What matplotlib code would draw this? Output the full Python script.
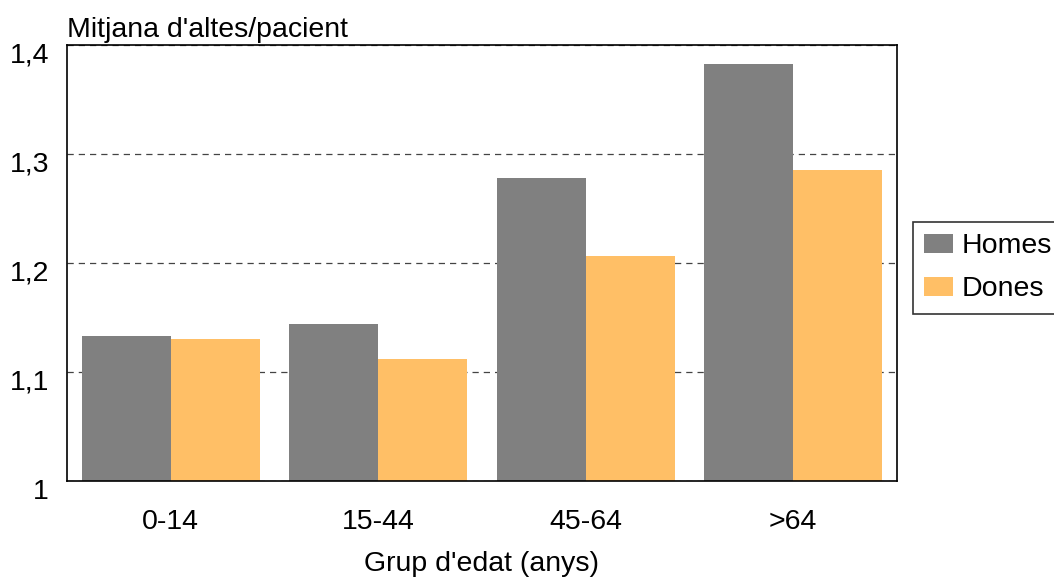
import matplotlib
matplotlib.use('Agg')
import matplotlib.pyplot as plt
import matplotlib.transforms as mtransforms
import numpy as np

plt.rcParams['font.family'] = ['Liberation Sans', 'DejaVu Sans']

groups = ['0-14', '15-44', '45-64', '>64']
homes = [1.133, 1.144, 1.278, 1.383]
dones = [1.130, 1.112, 1.206, 1.285]
yticks = [1.0, 1.1, 1.2, 1.3, 1.4]
ylabels = ['1', '1,1', '1,2', '1,3', '1,4']

fig = plt.figure(figsize=(10.54, 5.77), dpi=100)
ax = fig.add_axes([67/1054, 96/577, 830/1054, 436/577])

x = np.arange(len(groups))
w = 0.43
ax.bar(x - w/2, np.array(homes) - 1, w, bottom=1, color='#808080', label='Homes', zorder=2)
ax.bar(x + w/2, np.array(dones) - 1, w, bottom=1, color='#FFBF66', label='Dones', zorder=2)

ax.set_xlim(-0.5, 3.5)
ax.set_ylim(1.0, 1.4)
ax.set_yticks(yticks)
ax.set_yticklabels(ylabels)
ax.set_xticks(x)
ax.set_xticklabels(groups)
ax.tick_params(length=0, labelsize=20.5)
ax.tick_params(axis='y', pad=13)
ax.tick_params(axis='x', pad=20)
# y labels sit a bit below their gridlines in the reference
off = mtransforms.ScaledTranslation(0, -8/100, fig.dpi_scale_trans)
for lab in ax.get_yticklabels():
    lab.set_transform(lab.get_transform() + off)
ax.yaxis.grid(True, linestyle=(0, (5, 4)), color='#444444', linewidth=0.9, zorder=1)
for s in ax.spines.values():
    s.set_linewidth(1.2)
    s.set_color('black')

ax.set_xlabel("Grup d'edat (anys)", fontsize=20.5, labelpad=12)
fig.text(67/1054, 1 - 30/577, "Mitjana d'altes/pacient", fontsize=20.5, ha='left', va='center')

leg = fig.legend(loc='upper left', bbox_to_anchor=(913/1054, 1 - 222/577), fontsize=20.5,
                 frameon=True, fancybox=False, edgecolor='black', handlelength=1.0,
                 handleheight=0.65, borderpad=0.4, labelspacing=0.6, handletextpad=0.3,
                 borderaxespad=0)
leg.get_frame().set_linewidth(1.2)

plt.savefig('out.png', dpi=100)
